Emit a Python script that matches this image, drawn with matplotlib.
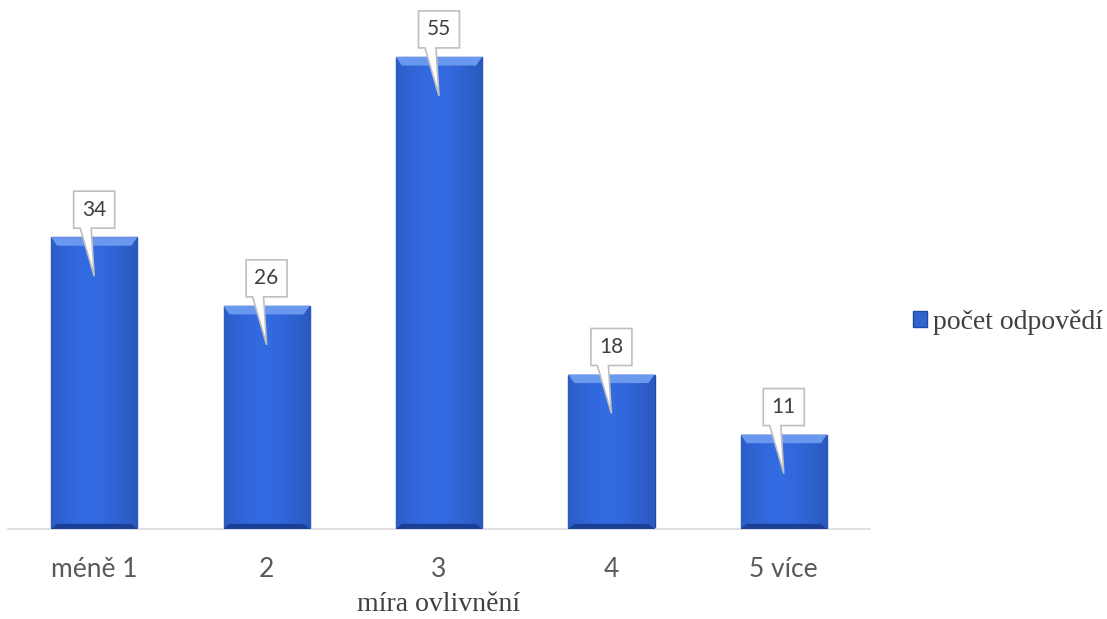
import numpy as np
import matplotlib.pyplot as plt
from matplotlib.patches import Patch

categories = ['méně 1', '2', '3', '4', '5 více']
values = [34, 26, 55, 18, 11]
series_name = 'počet odpovědí'
x_label = 'míra ovlivnění'

fig = plt.figure(figsize=(11.07, 6.19), dpi=100)
ax = fig.add_axes([8 / 1107, 90 / 619, 862 / 1107, 515 / 619])

x = np.arange(len(categories))
bars = ax.bar(x, values, width=0.5, color='#2f64cc', edgecolor='#1d4aa8',
              linewidth=1.0, zorder=2)

# bevel / gradient look on every bar
grad = np.linspace(0, 1, 200)
shade = 1 - 0.45 * np.abs(grad - 0.45) ** 1.5
cmap_img = np.dstack([0.18 * shade + 0.02, 0.40 * shade + 0.02, 0.84 * shade + 0.05])
for b in bars:
    x0, w, h = b.get_x(), b.get_width(), b.get_height()
    im = ax.imshow(cmap_img, extent=[x0, x0 + w, 0, h],
                   aspect='auto', zorder=3)
    im.set_clip_path(b)
    # light top bevel, dark bottom bevel
    ax.fill([x0, x0 + w, x0 + w * 0.93, x0 + w * 0.07],
            [h, h, h - 1.0, h - 1.0], color='#6a98ee', zorder=4, lw=0)
    ax.fill([x0, x0 + w, x0 + w * 0.93, x0 + w * 0.07],
            [0, 0, 0.6, 0.6], color='#1a3f94', zorder=4, lw=0)

# callout labels (box + pointer into the bar)
px_x = 1 / 172.4
px_y = 60 / 515
bw, bh = 41 * px_x, 37 * px_y
for xi, v in zip(x, values):
    bot = v + 9 * px_y
    top = bot + bh
    L, R = xi - bw / 2, xi + bw / 2
    tip = v - 39 * px_y
    ax.fill([L, xi - 14 * px_x, xi, xi - 3 * px_x, R, R, L],
            [bot, bot, tip, bot, bot, top, top],
            fc='white', ec='#bfbfbf', lw=1.2, zorder=6, joinstyle='miter',
            clip_on=False)
    ax.text(xi, (bot + top) / 2, str(v), ha='center', va='center',
            fontsize=15, color='#404040', family='Lato', zorder=7)

ax.set_xlim(-0.5, len(categories) - 0.5)
ax.set_ylim(0, 60)
ax.set_yticks([])
ax.set_xticks(x)
ax.set_xticklabels(categories, fontsize=19, color='#595959', family='Lato')
ax.tick_params(axis='x', length=0, pad=20)
for s in ['top', 'right', 'left']:
    ax.spines[s].set_visible(False)
ax.spines['bottom'].set_color('#d9d9d9')
ax.spines['bottom'].set_linewidth(1.2)
ax.set_xlabel(x_label, fontsize=20, family='Liberation Serif', color='#404040')
ax.xaxis.set_label_coords(0.5, -0.122)

handle = Patch(facecolor='#2f64cc', edgecolor='#1d4aa8', label=series_name)
fig.legend(handles=[handle], loc='center left', bbox_to_anchor=(913 / 1107, 1 - 322 / 619),
           frameon=False, prop={'family': 'Liberation Serif', 'size': 20},
           borderpad=0, borderaxespad=0,
           handlelength=0.5, handleheight=0.5, handletextpad=0.22, labelcolor='#404040')

fig.savefig('out.png', dpi=100)
